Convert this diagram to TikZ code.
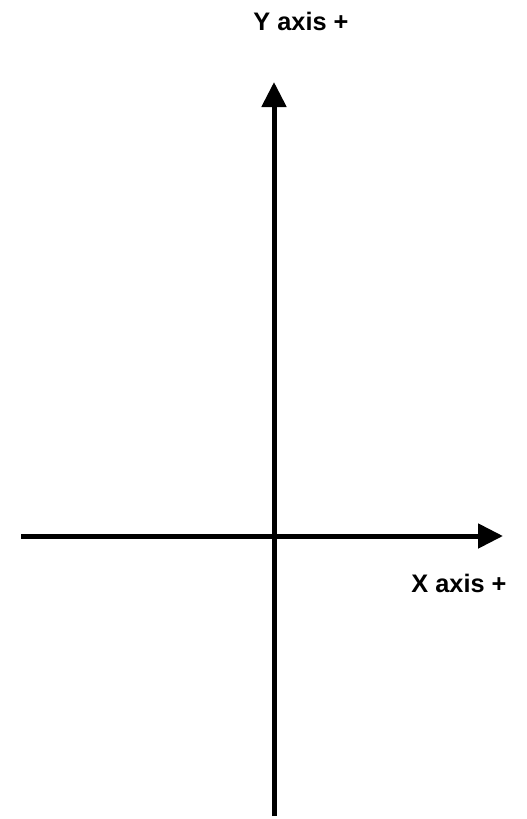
\documentclass[tikz,border=0pt]{standalone}
\usepackage{fontspec}
\setmainfont{Liberation Sans}
\usetikzlibrary{arrows.meta}
\tikzstyle{every node}=[font=\bfseries\fontsize{19}{21}\selectfont]
\tikzstyle{every path}=[line width=3.75pt]
\tikzstyle{axis} = [-{Triangle[length=18.75pt, width=18pt]}]

\begin{document}
\begin{tikzpicture}[x=0.75pt,y=-0.75pt]
		\useasboundingbox (0,0) rectangle (527,819);
		
		\coordinate (xstart) at (21,536);
		\coordinate (xend) at (503,536);
		\coordinate (ystart) at (274,816);
		\coordinate (yend) at (274,82);
		
		\draw[axis] (xstart) -- (xend);
		\draw[axis] (ystart) -- (yend);
		
		\node (ylabel) at (301,21) {Y axis +};
		\node (xlabel) at (459,583) {X axis +};
		
	\end{tikzpicture}
\end{document}
